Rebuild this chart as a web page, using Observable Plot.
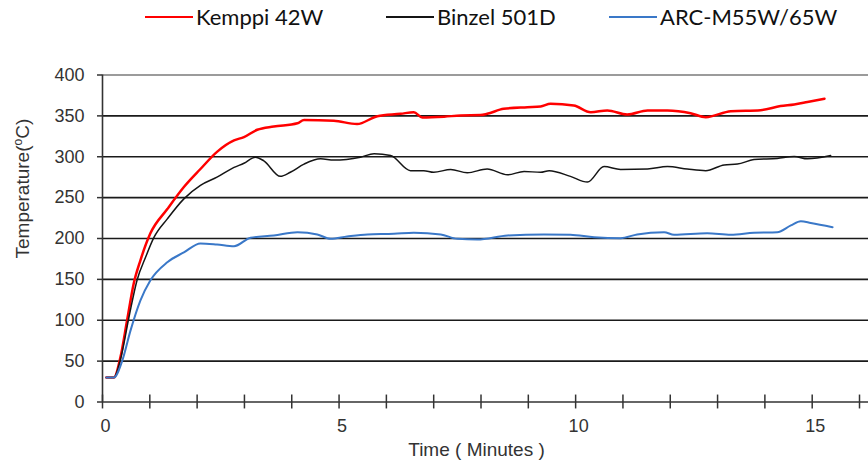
<!DOCTYPE html>
<html><head><meta charset="utf-8">
<script src="https://cdn.jsdelivr.net/npm/d3@7"></script>
<script src="https://cdn.jsdelivr.net/npm/@observablehq/plot@0.6"></script>
<style>
body{margin:0;background:#fff;}
#legend{position:relative;height:40px;width:868px;font-family:Lato,sans-serif;font-size:22px;color:#111;}
.item{position:absolute;top:2px;display:flex;align-items:center;white-space:nowrap;line-height:30px;}
.sw{width:48px;height:2px;margin-right:3px;}
</style></head><body>
<div id="legend"></div>
<div id="chart"></div>
<script>
const seriesNames = ["Kemppi 42W", "Binzel 501D", "ARC-M55W/65W"];
const seriesColors = ["#ff0000", "#151515", "#3a78c8"];
const seriesWidths = [2.5, 1.5, 2];

const kemppiTime = [0.08,0.24,0.38,0.52,0.66,0.80,1.01,1.37,1.72,2.07,2.42,2.78,2.99,3.27,3.62,4.12,4.26,4.89,5.38,5.81,6.30,6.58,6.76,7.22,7.57,7.99,8.13,8.48,8.98,9.26,9.47,9.96,10.32,10.67,11.09,11.52,11.94,12.43,12.75,13.28,13.91,14.33,14.62,14.90,15.26];
const kemppiTemp = [30,30,55,100,145,173,206,236,263,285,306,320,324,333,337,341,345,344,340,349.6,352.5,354.5,348,349,350.5,351,352.5,358.6,360.6,361.5,364.7,362.7,354.5,356.6,351.7,356.6,356.6,353.3,348.4,355.7,357,362,364,367,371];

const binzelTime = [0.08,0.24,0.38,0.56,0.73,0.91,1.09,1.37,1.72,2.07,2.42,2.78,2.99,3.23,3.41,3.76,3.97,4.26,4.61,4.89,5.45,5.74,6.09,6.51,6.79,7.00,7.36,7.71,8.13,8.56,8.91,9.26,9.44,9.89,10.25,10.60,10.95,11.52,11.94,12.36,12.75,13.14,13.42,13.77,14.26,14.62,14.90,15.39];
const binzelTemp = [30,30,52,104,149,177,201.6,224,248.5,265,275,287,292,299.5,295,276,281,291,297.5,296,299.5,303.6,301.5,283,283,281,284.4,280.4,285,278,282,281,283,276,269,288,284.4,285,288,285,283,290,291,296.5,298,300.3,297.5,301.5];

const arcTime = [0.08,0.24,0.42,0.59,0.80,1.01,1.37,1.72,2.07,2.42,2.78,3.13,3.62,4.12,4.54,4.82,5.17,5.60,6.16,6.58,7.15,7.50,7.92,8.56,9.33,9.89,10.39,10.95,11.30,11.87,12.08,12.78,13.28,13.77,14.26,14.55,14.76,14.97,15.43];
const arcTemp = [30,30,51,87,124,148.6,171,183,194,192.7,190.6,201,203.7,207.7,205,199.6,202.4,205,205.7,207,205,199.6,198.8,203.7,205,204.5,201.6,200.4,205,207.7,204.5,206.5,204.5,207,207.7,216,221,219,213.8];

const yTicks = [0, 50, 100, 150, 200, 250, 300, 350, 400];
const xTickLabels = [0, 5, 10, 15];
const xMinorTicks = d3.range(0, 17);
const xTitle = "Time ( Minutes )";
const yTitle = "Temperature(°C)";

const allTimes = [kemppiTime, binzelTime, arcTime];
const allTemps = [kemppiTemp, binzelTemp, arcTemp];
const data = allTimes.flatMap((ts, i) => ts.map((t, j) => ({series: seriesNames[i], t, v: allTemps[i][j]})));

// legend
const lg = document.getElementById("legend");
const legendLeft = [145, 386, 609];
seriesNames.forEach((n, i) => {
  const it = document.createElement("div");
  it.className = "item";
  it.style.left = legendLeft[i] + "px";
  it.innerHTML = `<span class="sw" style="background:${seriesColors[i]}"></span><span>${n}</span>`;
  lg.appendChild(it);
});

const axisColor = "#333";
const plot = Plot.plot({
  width: 868, height: 429,
  marginLeft: 102, marginRight: 0, marginTop: 34.5, marginBottom: 67.5,
  x: {domain: [0, 16.19]},
  y: {domain: [0, 400]},
  style: {fontFamily: "'Liberation Sans', Arial, sans-serif", fontSize: "18px", color: "#333", background: "#fff"},
  marks: [
    Plot.ruleY(yTicks.filter(d => d > 0), {stroke: d => d === 400 ? "#7a7a7a" : "#1a1a1a", strokeWidth: 1.6}),
    Plot.axisY({ticks: yTicks, tickSize: 5, tickPadding: 13, label: null, stroke: axisColor, strokeWidth: 1.5, fill: "#333"}),
    Plot.axisX({ticks: xTickLabels, tickSize: 0, tickPadding: 17.5, label: null, dx: 3, fill: "#333"}),
    Plot.ruleX(xMinorTicks, {y1: -8.5, y2: 8.5, stroke: axisColor, strokeWidth: 1.5}),
    Plot.ruleY([0], {stroke: axisColor, strokeWidth: 1.6}),
    Plot.ruleX([0], {y1: 0, y2: 400, stroke: axisColor, strokeWidth: 1.6}),
    ...seriesNames.map((n, i) => Plot.line(data.filter(d => d.series === n), {x: "t", y: "v", stroke: seriesColors[i], strokeWidth: seriesWidths[i], curve: "monotone-x"})),
    Plot.text([xTitle], {frameAnchor: "bottom", dx: -9, dy: 53.5, fontSize: 19, fill: "#333"}),
    Plot.text([yTitle], {frameAnchor: "left", rotate: -90, dx: -80, dy: 20, fontSize: 19, fill: "#333"})
  ]
});
document.getElementById("chart").appendChild(plot);
// superscript o in the y title
plot.querySelectorAll("text").forEach(t => {
  if (t.textContent === yTitle) {
    t.textContent = "";
    const ns = "http://www.w3.org/2000/svg";
    const a = document.createElementNS(ns, "tspan"); a.textContent = "Temperature(";
    const b = document.createElementNS(ns, "tspan"); b.textContent = "o"; b.setAttribute("font-size", "12"); b.setAttribute("dy", "-7");
    const c = document.createElementNS(ns, "tspan"); c.textContent = "C)"; c.setAttribute("dy", "7");
    t.append(a, b, c);
  }
});
</script>
</body></html>
